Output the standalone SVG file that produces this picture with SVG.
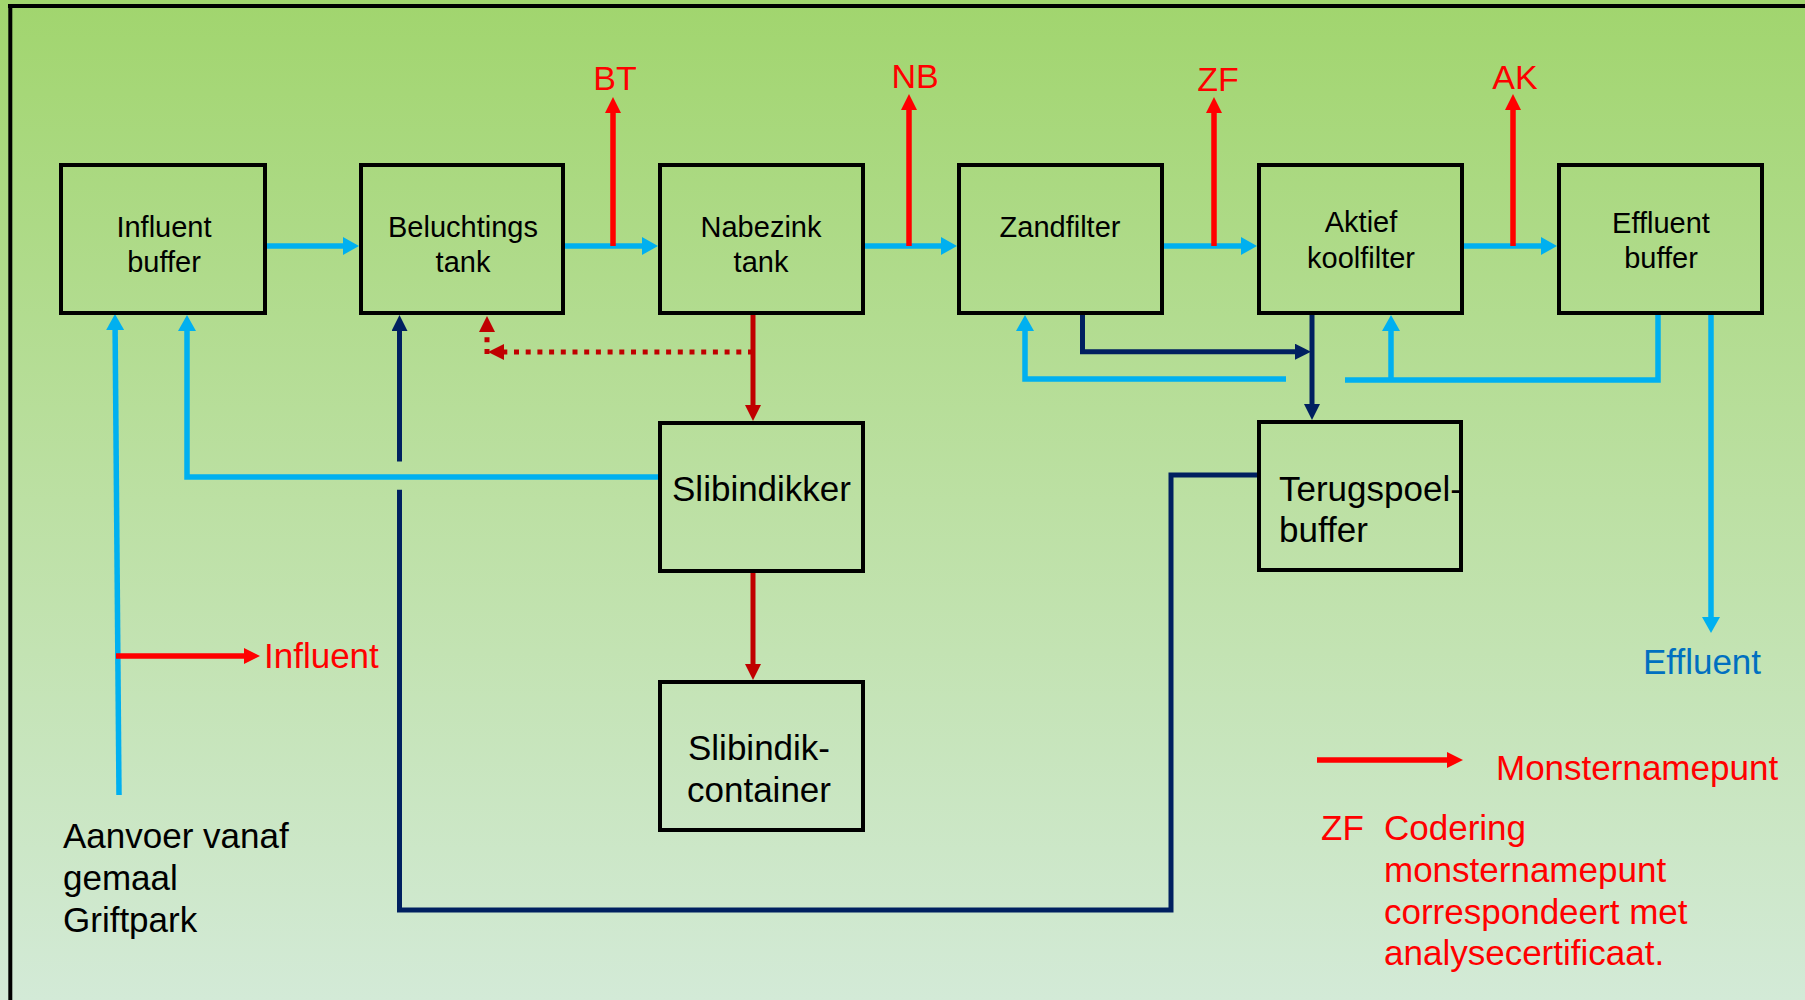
<svg xmlns="http://www.w3.org/2000/svg" width="1805" height="1000" viewBox="0 0 1805 1000">
<defs>
<linearGradient id="bg" x1="0" y1="0" x2="0" y2="1">
<stop offset="0" stop-color="#A1D56E"/>
<stop offset="0.5" stop-color="#BCE0A3"/>
<stop offset="1" stop-color="#D3EAD7"/>
</linearGradient>
<marker id="mBlue" markerUnits="userSpaceOnUse" markerWidth="16" markerHeight="18" viewBox="0 0 16 18" refX="1" refY="9" orient="auto"><path d="M0,0 L16,9 L0,18 z" fill="#00B0F0"/></marker>
<marker id="mRed" markerUnits="userSpaceOnUse" markerWidth="16" markerHeight="16" viewBox="0 0 16 16" refX="1" refY="8" orient="auto"><path d="M0,0 L16,8 L0,16 z" fill="#FF0000"/></marker>
<marker id="mDRed" markerUnits="userSpaceOnUse" markerWidth="16" markerHeight="16" viewBox="0 0 16 16" refX="1" refY="8" orient="auto"><path d="M0,0 L16,8 L0,16 z" fill="#C00000"/></marker>
<marker id="mNavy" markerUnits="userSpaceOnUse" markerWidth="16" markerHeight="16" viewBox="0 0 16 16" refX="1" refY="8" orient="auto"><path d="M0,0 L16,8 L0,16 z" fill="#002060"/></marker>
</defs>
<style>
.box{fill:none;stroke:#000;stroke-width:4}
.t{font-family:"Liberation Sans",Arial,sans-serif;fill:#000}
.s{font-size:29px;text-anchor:middle}
.l{font-size:35px}
.red{fill:#FF0000}
.blue{stroke:#00B0F0;stroke-width:5.5;fill:none}
.navy{stroke:#002060;stroke-width:5;fill:none}
.rl{stroke:#FF0000;stroke-width:5.5;fill:none}
.dr{stroke:#C00000;stroke-width:5;fill:none}
.dot{stroke-dasharray:5 6.7}
</style>
<rect x="0" y="0" width="1805" height="1000" fill="url(#bg)"/>
<g id="frame">
<line x1="8" y1="6" x2="1805" y2="6" stroke="#000" stroke-width="4"/>
<line x1="10.3" y1="4" x2="10.3" y2="1000" stroke="#000" stroke-width="4"/>
</g>

<g id="connectors">
<path class="blue" d="M267,246 H344" marker-end="url(#mBlue)"/>
<path class="blue" d="M565,246 H643" marker-end="url(#mBlue)"/>
<path class="blue" d="M865,246 H942" marker-end="url(#mBlue)"/>
<path class="blue" d="M1164,246 H1242" marker-end="url(#mBlue)"/>
<path class="blue" d="M1464,246 H1542" marker-end="url(#mBlue)"/>
<path class="blue" d="M119,795 L115.1,329" marker-end="url(#mBlue)"/>
<path class="blue" d="M658,477 H187 V330" marker-end="url(#mBlue)"/>
<path class="blue" d="M1286,379 H1025 V330" marker-end="url(#mBlue)"/>
<path class="blue" d="M1658,315 V380 H1345"/>
<path class="blue" d="M1391,380 V330" marker-end="url(#mBlue)"/>
<path class="blue" d="M1711,315 V618" marker-end="url(#mBlue)"/>

<path class="navy" d="M1082.5,315 V351.7 H1296" marker-end="url(#mNavy)"/>
<path class="navy" d="M1312,315 V405" marker-end="url(#mNavy)"/>
<path class="navy" d="M1257,475 H1171 V910 H399.5 V489.7"/>
<path class="navy" d="M399.5,461.6 V330" marker-end="url(#mNavy)"/>

<path class="rl" d="M613,246 V112" marker-end="url(#mRed)"/>
<path class="rl" d="M909,246 V109" marker-end="url(#mRed)"/>
<path class="rl" d="M1214,246 V112" marker-end="url(#mRed)"/>
<path class="rl" d="M1513,246 V109" marker-end="url(#mRed)"/>
<path class="rl" d="M116,656 H245" marker-end="url(#mRed)"/>
<path class="rl" d="M1317,760 H1448" marker-end="url(#mRed)"/>

<path class="dr" d="M753,315 V406" marker-end="url(#mDRed)"/>
<path class="dr" d="M753,573 V665" marker-end="url(#mDRed)"/>
<path class="dr dot" d="M753,352 H503" marker-end="url(#mDRed)"/>
<path class="dr dot" d="M487,354 V331" marker-end="url(#mDRed)"/>
</g>

<g id="influent-buffer">
<rect class="box" x="61" y="165" width="204" height="148"/>
<text class="t s" x="164" y="237">Influent</text>
<text class="t s" x="164" y="272">buffer</text>
</g>
<g id="beluchtings-tank">
<rect class="box" x="361" y="165" width="202" height="148"/>
<text class="t s" x="463" y="237">Beluchtings</text>
<text class="t s" x="463" y="272">tank</text>
</g>
<g id="nabezink-tank">
<rect class="box" x="660" y="165" width="203" height="148"/>
<text class="t s" x="761" y="237">Nabezink</text>
<text class="t s" x="761" y="272">tank</text>
</g>
<g id="zandfilter">
<rect class="box" x="959" y="165" width="203" height="148"/>
<text class="t s" x="1060" y="237">Zandfilter</text>
</g>
<g id="aktief-koolfilter">
<rect class="box" x="1259" y="165" width="203" height="148"/>
<text class="t s" x="1361" y="232">Aktief</text>
<text class="t s" x="1361" y="268">koolfilter</text>
</g>
<g id="effluent-buffer">
<rect class="box" x="1559" y="165" width="203" height="148"/>
<text class="t s" x="1661" y="233">Effluent</text>
<text class="t s" x="1661" y="268">buffer</text>
</g>
<g id="slibindikker">
<rect class="box" x="660" y="423" width="203" height="148"/>
<text class="t l" x="761.5" y="501" text-anchor="middle">Slibindikker</text>
</g>
<g id="slibindik-container">
<rect class="box" x="660" y="682" width="203" height="148"/>
<text class="t l" x="759" y="760" text-anchor="middle">Slibindik-</text>
<text class="t l" x="759" y="802" text-anchor="middle">container</text>
</g>
<g id="terugspoelbuffer">
<rect class="box" x="1259" y="422" width="202" height="148"/>
<text class="t l" x="1279" y="501">Terugspoel-</text>
<text class="t l" x="1279" y="542">buffer</text>
</g>

<g id="labels">
<text class="t red" font-size="34" x="615" y="90" text-anchor="middle">BT</text>
<text class="t red" font-size="34" x="915" y="88" text-anchor="middle">NB</text>
<text class="t red" font-size="34" x="1218" y="91" text-anchor="middle">ZF</text>
<text class="t red" font-size="34" x="1515" y="89" text-anchor="middle">AK</text>
<text class="t l red" x="264" y="668">Influent</text>
<text class="t l" x="63" y="848">Aanvoer vanaf</text>
<text class="t l" x="63" y="890">gemaal</text>
<text class="t l" x="63" y="932">Griftpark</text>
<text class="t l" x="1643" y="674" fill="#0070C0" style="fill:#0070C0">Effluent</text>
</g>
<g id="legend">
<text class="t l red" x="1496" y="780">Monsternamepunt</text>
<text class="t l red" x="1321" y="840">ZF</text>
<text class="t l red" x="1384" y="840">Codering</text>
<text class="t l red" x="1384" y="882">monsternamepunt</text>
<text class="t l red" x="1384" y="924">correspondeert met</text>
<text class="t l red" x="1384" y="965">analysecertificaat.</text>
</g>
</svg>
